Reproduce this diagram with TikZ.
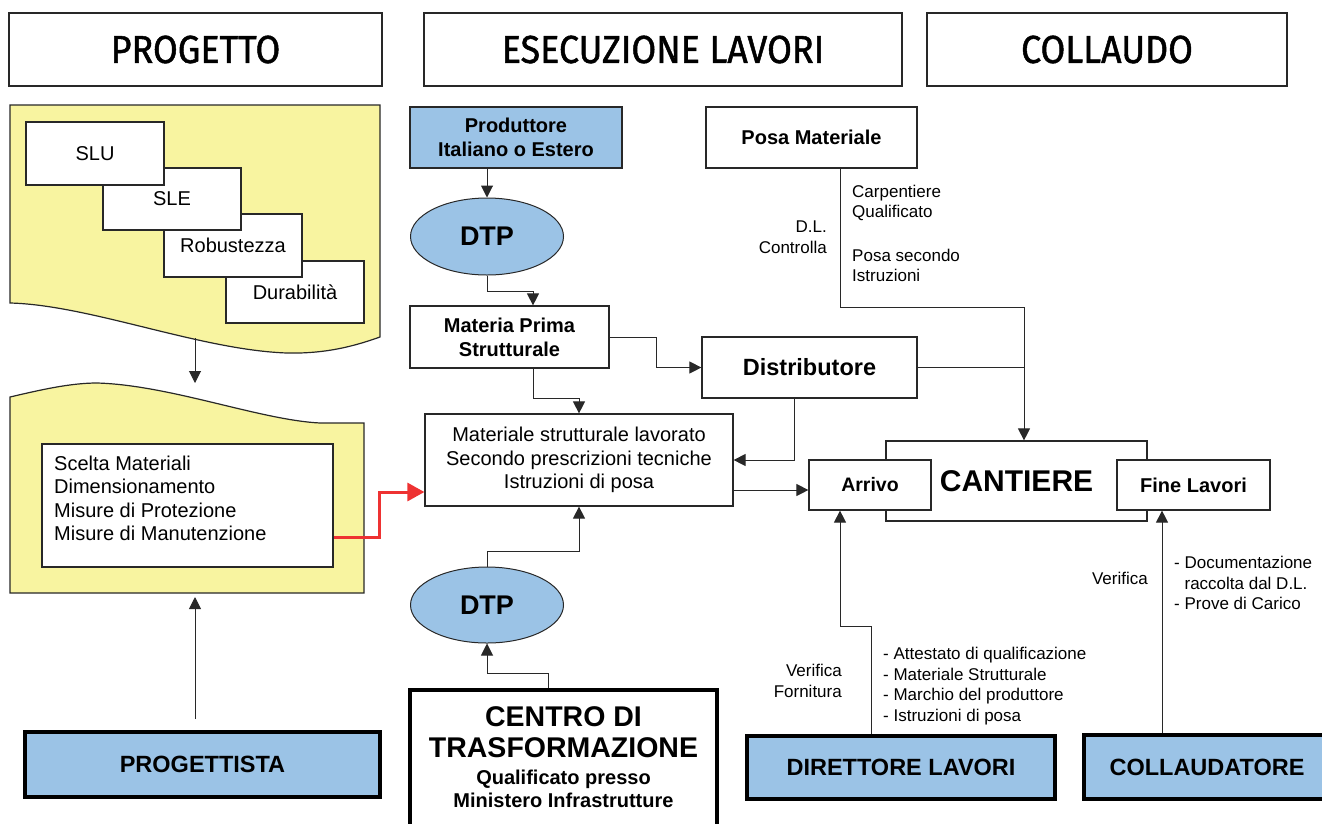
\documentclass[tikz,border=0pt]{standalone}
\usepackage{fontspec}
\setmainfont{Liberation Sans}
\newfontfamily\hdrfont[FakeBold=1.3]{Fira Sans}
\usetikzlibrary{arrows.meta,calc,shapes.geometric}
\definecolor{lblue}{RGB}{155,195,230}
\definecolor{lyellow}{RGB}{248,244,160}
\definecolor{redarrow}{RGB}{238,50,50}
\definecolor{linec}{RGB}{40,40,40}
\begin{document}
\begin{tikzpicture}[x=1pt,y=-1pt,
  font=\fontsize{20}{23.5}\selectfont,
  box/.style={draw=linec, line width=1.2pt, fill=white, inner sep=0pt, align=center},
  hdr/.style={draw=linec, line width=1.7pt, minimum height=73pt, inner sep=0pt, font=\hdrfont\fontsize{39}{40}\selectfont},
  bluebox/.style={box, fill=lblue},
  thickbox/.style={draw=black, line width=4pt, fill=lblue, inner sep=0pt, align=center, font=\bfseries\fontsize{23.5}{26}\selectfont},
  ell/.style={ellipse, draw=linec, line width=1pt, fill=lblue, inner sep=0pt, font=\bfseries\fontsize{27}{30}\selectfont},
  conn/.style={draw=linec, line width=1pt},
  arr/.style={conn, -{Triangle[length=12pt,width=12pt]}},
  redarr/.style={draw=redarrow, line width=3pt, -{Triangle[length=17pt,width=18pt]}},
  lbl/.style={inner sep=0pt, font=\fontsize{17}{20.5}\selectfont},
  doc/.style={draw=linec, line width=1.2pt, fill=lyellow},
]
\useasboundingbox (0,0) rectangle (1322,823);
\clip (0,0) rectangle (1322,823);

% headers
\node[hdr, minimum width=373pt] (hprog) at (195.5,49.5) {\scalebox{0.92}[1]{PROGETTO}};
\node[hdr, minimum width=478pt] (hesec) at (663,49.5) {\scalebox{0.92}[1]{ESECUZIONE LAVORI}};
\node[hdr, minimum width=360pt] (hcoll) at (1107,49.5) {\scalebox{0.92}[1]{COLLAUDO}};

% left documents
\path[doc] (10,105) -- (380,105) -- (380,337) .. controls (360,344) and (330,354) .. (287,353) .. controls (200,350) and (90,305) .. (10,303) -- cycle;
\path[doc] (10,397) .. controls (40,390) and (70,383) .. (97,383) .. controls (170,385) and (260,420) .. (320,423) -- (364,423) -- (364,593) -- (10,593) -- cycle;

\node[box, minimum width=138pt, minimum height=62pt] (dur) at (295,292) {Durabilità};
\node[box, minimum width=138pt, minimum height=63pt] (rob) at (233,245.5) {Robustezza};
\node[box, minimum width=138pt, minimum height=62pt] (sle) at (172,199) {SLE};
\node[box, minimum width=138pt, minimum height=63pt] (slu) at (95,153.5) {SLU};

\node[box, minimum width=291pt, minimum height=123pt] (inner) at (187.5,505.5) {};
\node[inner sep=0pt, anchor=west, align=left] (innertxt) at (54,498.5) {Scelta Materiali\\Dimensionamento\\Misure di Protezione\\Misure di Manutenzione};

\node[thickbox, minimum width=355pt, minimum height=65pt] (progt) at (202.5,764.5) {PROGETTISTA};

% middle column
\node[bluebox, minimum width=212pt, minimum height=61pt, font=\bfseries\fontsize{20}{24}\selectfont] (prod) at (516,137.5) {Produttore\\Italiano o Estero};
\node[ell, minimum width=153pt, minimum height=77pt] (dtp1) at (487,236.5) {DTP};
\node[box, minimum width=199pt, minimum height=62pt, font=\bfseries\fontsize{20}{24}\selectfont] (mps) at (509.5,337) {Materia Prima\\Strutturale};
\node[box, minimum width=308pt, minimum height=92pt] (mat) at (579,460) {Materiale strutturale lavorato\\Secondo prescrizioni tecniche\\Istruzioni di posa};
\node[ell, minimum width=153pt, minimum height=76pt] (dtp2) at (487,605) {DTP};
\node[draw=black, line width=4pt, fill=white, minimum width=307pt, minimum height=140pt] (centro) at (563.5,760) {};
\node[inner sep=0pt, align=center, font=\bfseries\fontsize{28.5}{31}\selectfont] (centrot) at (563.5,732.5) {CENTRO DI\\TRASFORMAZIONE};
\node[inner sep=0pt, align=center, font=\bfseries\fontsize{20}{23}\selectfont] (centros) at (563.5,788.5) {Qualificato presso\\Ministero Infrastrutture};

% right part
\node[box, minimum width=211pt, minimum height=61pt, font=\bfseries\fontsize{20}{24}\selectfont] (posa) at (811.5,137.5) {Posa Materiale};
\node[box, minimum width=215pt, minimum height=61pt, font=\bfseries\fontsize{23.5}{26}\selectfont] (dist) at (809.5,367.5) {Distributore};
\node[box, minimum width=261pt, minimum height=80pt, font=\bfseries\fontsize{30}{32}\selectfont] (cant) at (1016.5,481) {CANTIERE};
\node[box, minimum width=122pt, minimum height=50pt, font=\bfseries\fontsize{19.5}{22}\selectfont] (arrivo) at (870,485) {Arrivo};
\node[box, minimum width=153pt, minimum height=50pt, font=\bfseries\fontsize{20}{22}\selectfont] (fine) at (1193.5,485) {Fine Lavori};
\node[thickbox, minimum width=308pt, minimum height=63pt] (dir) at (901,767.5) {DIRETTORE LAVORI};
\node[thickbox, minimum width=246pt, minimum height=64pt] (coll) at (1207,767) {COLLAUDATORE};

% labels
\node[lbl, anchor=east, align=right] (ldl) at (827,237) {D.L.\\Controlla};
\node[lbl, anchor=west, align=left] (lcarp) at (852,203) {Carpentiere\\Qualificato};
\node[lbl, anchor=west, align=left] (lposa) at (852,265.5) {Posa secondo\\Istruzioni};
\node[lbl, anchor=east, align=right] (lverf) at (842,681) {Verifica\\Fornitura};
\node[lbl, anchor=west, align=left] (ldlist) at (883,686) {- Attestato di qualificazione\\- Materiale Strutturale\\- Marchio del produttore\\- Istruzioni di posa};
\node[lbl, anchor=east] (lver) at (1148,578) {Verifica};
\node[lbl, anchor=west, align=left] (lclist) at (1174,583) {- Documentazione\\\phantom{- }raccolta dal D.L.\\- Prove di Carico};

% connectors
\coordinate (d1b) at (195,338);
\coordinate (d2t) at (195,383);
\coordinate (d2b) at (195,597);
\draw[arr] (d1b) -- (d2t);
\draw[arr] ($(progt.north)+(-7.5,-11)$) -- (d2b);
\draw[redarr] ($(inner.east)+(0,31.5)$) -- ++(46,0) |- ($(mat.west)+(0,32)$);

\draw[arr] (dtp1.north |- prod.south) -- (dtp1.north);
\draw[arr] (dtp1.south) -- ++(0,16) -| ($(mps.north)+(23.5,0)$);
\draw[arr] (mps.east) -- ++(47,0) |- (dist.west);
\draw[arr] ($(mps.south)+(23.5,0)$) -- ++(0,30) -| (mat.north);
\draw[arr] ($(dist.south)+(-15.5,0)$) |- (mat.east);
\draw[arr] ($(mat.east)+(0,30)$) coordinate (m1) -- (m1 -| arrivo.west);
\coordinate (cj) at ($(cant.north)+(7.5,0)$);
\draw[arr] ($(posa.south)+(28.5,0)$) -- ++(0,139) -| (cj);
\draw[conn] (dist.east) -- (dist.east -| cj);
\draw[arr] ($(dir.north)+(-30,0)$) -- ++(0,-108) -| ($(arrivo.south)+(-30,0)$);
\draw[arr] ($(coll.north)+(-45,0)$) -- ($(fine.south)+(-31.5,0)$);
\draw[arr] (dtp2.north) -- ++(0,-15) -| (mat.south);
\draw[arr] ($(centro.north)+(-15.5,0)$) -- ++(0,-15) -| (dtp2.south);
\end{tikzpicture}
\end{document}
